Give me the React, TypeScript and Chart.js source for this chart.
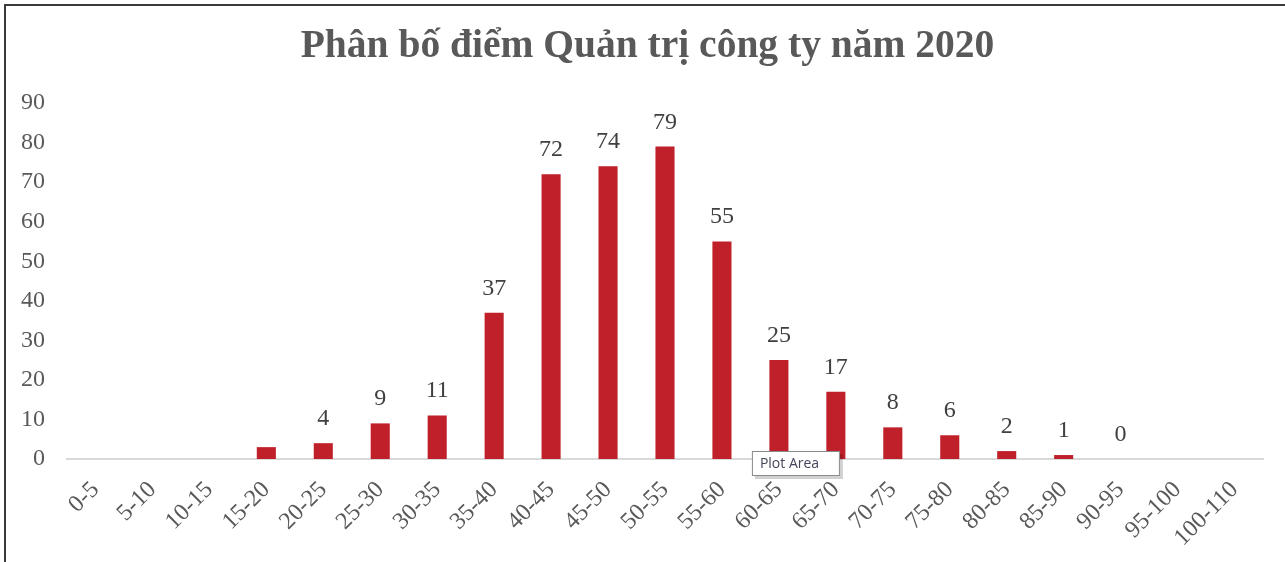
import React, { useEffect, useRef } from "react";
import { Chart, registerables } from "chart.js";

Chart.register(...registerables);

const TITLE = "Phân bố điểm Quản trị công ty năm 2020";
const categories = [
  "0-5", "5-10", "10-15", "15-20", "20-25", "25-30", "30-35", "35-40", "40-45", "45-50",
  "50-55", "55-60", "60-65", "65-70", "70-75", "75-80", "80-85", "85-90", "90-95", "95-100", "100-110",
];
const counts = [0, 0, 0, 3, 4, 9, 11, 37, 72, 74, 79, 55, 25, 17, 8, 6, 2, 1, 0, 0, 0];
const shownLabels: (string | null)[] = [
  null, null, null, null, "4", "9", "11", "37", "72", "74", "79", "55", "25", "17", "8", "6", "2", "1", "0", null, null,
];
const yTickValues = [0, 10, 20, 30, 40, 50, 60, 70, 80, 90];

const SERIF = "'Liberation Serif', 'Times New Roman', serif";

const titlePlugin = {
  id: "centeredTitle",
  afterDraw(chart: any) {
    const { ctx } = chart;
    ctx.save();
    ctx.font = `bold 39.5px ${SERIF}`;
    ctx.fillStyle = "#595959";
    ctx.textAlign = "center";
    ctx.textBaseline = "middle";
    ctx.fillText(TITLE, chart.width / 2 + 5, 47);
    ctx.restore();
  },
};

const dataLabelPlugin = {
  id: "dataLabels",
  afterDatasetsDraw(chart: any) {
    const { ctx } = chart;
    const meta = chart.getDatasetMeta(0);
    ctx.save();
    ctx.font = `24px ${SERIF}`;
    ctx.fillStyle = "#404040";
    ctx.textAlign = "center";
    ctx.textBaseline = "alphabetic";
    meta.data.forEach((bar: any, i: number) => {
      const lbl = shownLabels[i];
      if (lbl == null) return;
      ctx.fillText(lbl, bar.x, bar.y - 18);
    });
    ctx.restore();
  },
};

const plotAreaTipPlugin = {
  id: "plotAreaTip",
  afterDraw(chart: any) {
    const { ctx } = chart;
    const xs = chart.scales.x;
    const ys = chart.scales.y;
    const left = xs.getPixelForValue(12) - 27;
    const top = ys.getPixelForValue(0) - 8;
    const w = 88;
    const h = 25;
    ctx.save();
    ctx.fillStyle = "rgba(0,0,0,0.18)";
    ctx.fillRect(left + 3, top + 3, w, h);
    ctx.fillStyle = "#ffffff";
    ctx.fillRect(left, top, w, h);
    ctx.strokeStyle = "#8a8a8a";
    ctx.lineWidth = 1;
    ctx.strokeRect(left + 0.5, top + 0.5, w - 1, h - 1);
    ctx.font = "14px 'Open Sans', 'DejaVu Sans', sans-serif";
    ctx.fillStyle = "#44445a";
    ctx.textAlign = "left";
    ctx.textBaseline = "middle";
    ctx.fillText("Plot Area", left + 8, top + h / 2 + 1);
    ctx.restore();
  },
};

export default function App() {
  const canvasRef = useRef<HTMLCanvasElement | null>(null);

  useEffect(() => {
    if (!canvasRef.current) return;
    const chart = new Chart(canvasRef.current, {
      type: "bar",
      data: {
        labels: categories,
        datasets: [
          {
            data: counts,
            backgroundColor: "#C0202A",
            borderWidth: 0,
            categoryPercentage: 1,
            barPercentage: 0.335,
          },
        ],
      },
      options: {
        animation: false,
        responsive: false,
        layout: { padding: { left: 5, right: 22, top: 103, bottom: 0 } },
        plugins: {
          legend: { display: false },
          tooltip: { enabled: false },
          title: { display: false },
        },
        scales: {
          x: {
            grid: { display: false, drawTicks: false },
            border: { display: true, color: "#d9d9d9", width: 2 },
            ticks: {
              color: "#595959",
              font: { family: SERIF, size: 24 },
              minRotation: 45,
              maxRotation: 45,
              padding: 17,
              autoSkip: false,
            },
            afterFit(scale: any) {
              scale.height = 103;
            },
          },
          y: {
            min: 0,
            max: 90,
            grid: { display: false, drawTicks: false },
            border: { display: false },
            afterBuildTicks(scale: any) {
              scale.ticks = yTickValues.map((v) => ({ value: v }));
            },
            ticks: {
              color: "#595959",
              font: { family: SERIF, size: 24 },
              padding: 22,
            },
            afterFit(scale: any) {
              scale.width = 62;
            },
          },
        },
      },
      plugins: [titlePlugin, dataLabelPlugin, plotAreaTipPlugin],
    });
    return () => chart.destroy();
  }, []);

  return (
    <div style={{ position: "absolute", left: 0, top: 0, width: 1285, height: 562, background: "#fff", overflow: "hidden" }}>
      <canvas ref={canvasRef} width={1285} height={562} style={{ position: "absolute", left: 0, top: 0 }} />
      <div
        style={{
          position: "absolute",
          left: 4,
          top: 4,
          right: 0,
          bottom: 0,
          borderLeft: "2px solid #3a3a3a",
          borderTop: "2px solid #3a3a3a",
          pointerEvents: "none",
        }}
      />
    </div>
  );
}
